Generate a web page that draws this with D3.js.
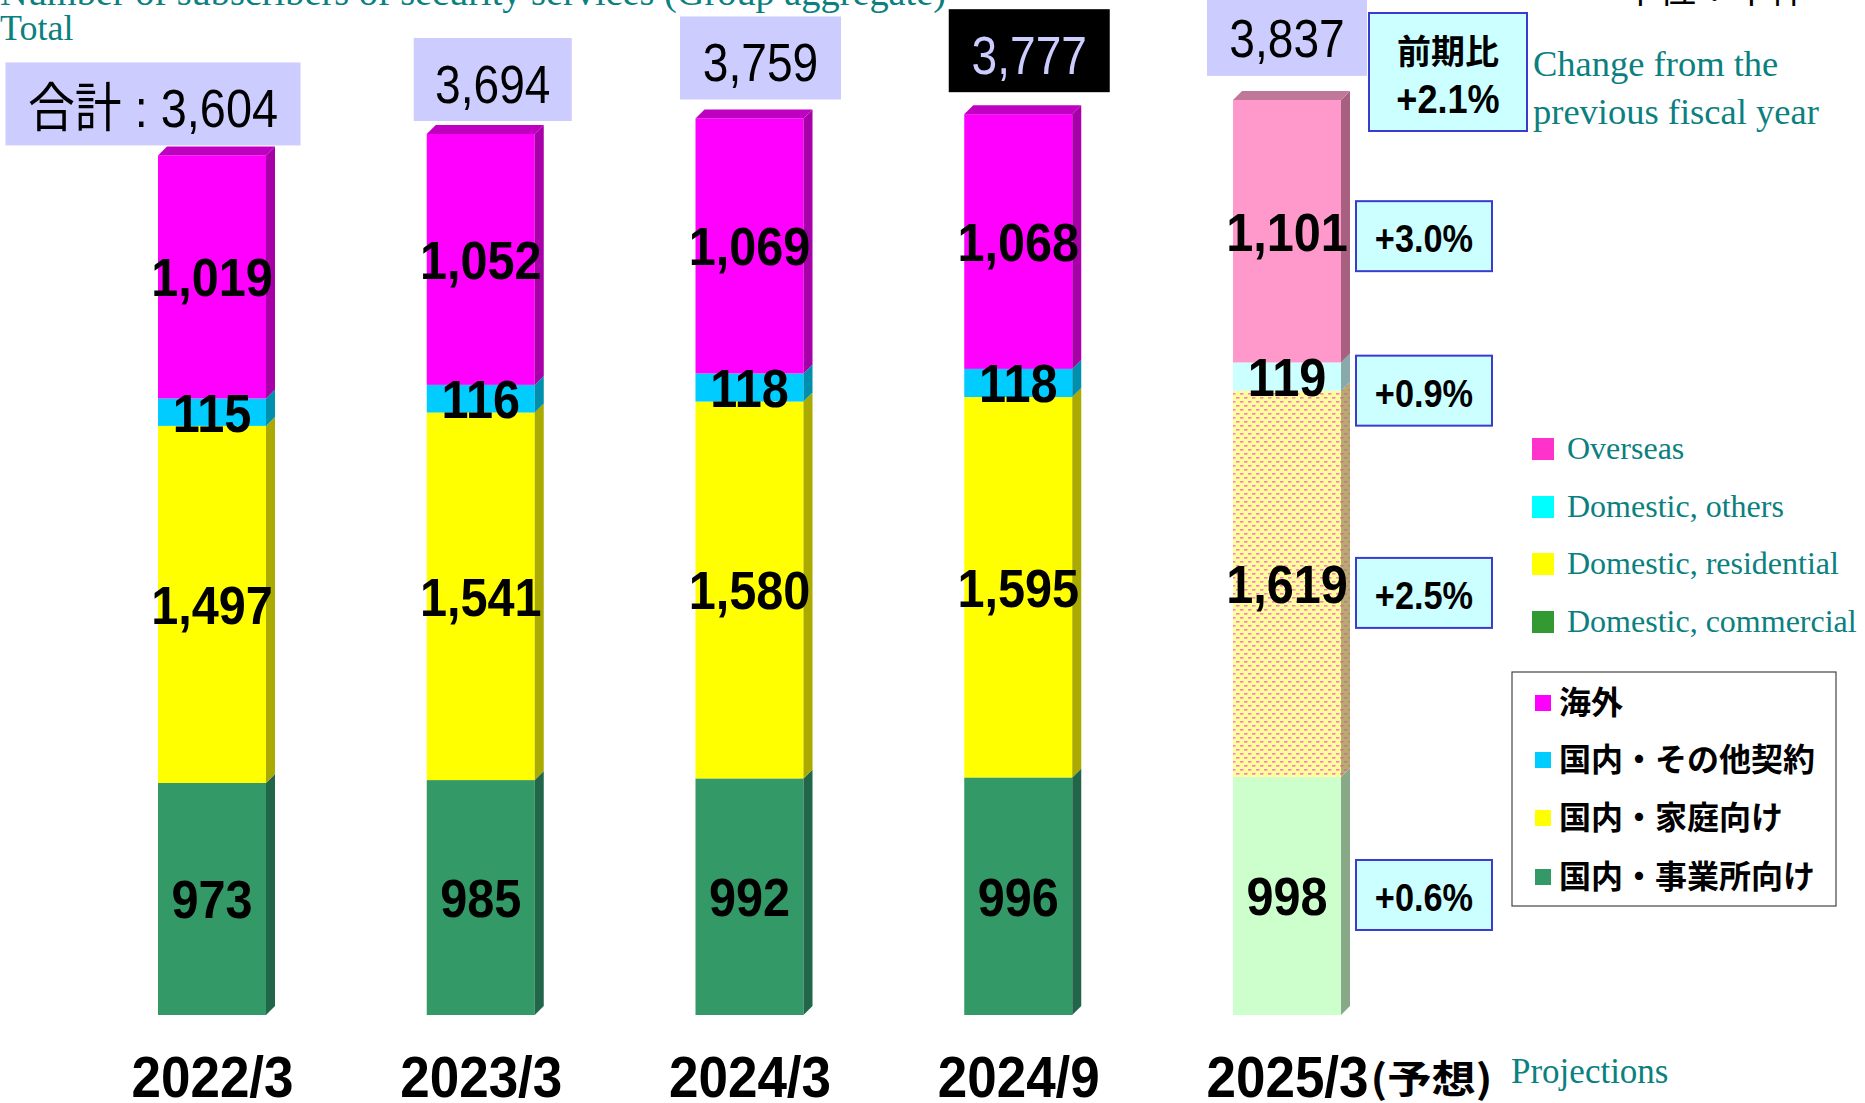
<!DOCTYPE html>
<html>
<head>
<meta charset="utf-8">
<script src="https://cdn.jsdelivr.net/npm/d3@7"></script>
<style>
  body { margin: 0; background: #fff; }
  svg { display: block; }
</style>
</head>
<body>
<script>
// data (thousand contracts)
const categories = ["2022/3", "2023/3", "2024/3", "2024/9", "2025/3"];
const commercial = [973, 985, 992, 996, 998];
const residential = [1497, 1541, 1580, 1595, 1619];
const others = [115, 116, 118, 118, 119];
const overseas = [1019, 1052, 1069, 1068, 1101];
const totals = [3604, 3694, 3759, 3777, 3837];
const changes = ["+0.6%", "+2.5%", "+0.9%", "+3.0%"]; // bottom up, for the projection
const totalChange = "+2.1%";
const keys = ["commercial", "residential", "others", "overseas"];
const legendEn = ["Overseas", "Domestic, others", "Domestic, residential", "Domestic, commercial"];
const legendJp = ["海外", "国内・その他契約", "国内・家庭向け", "国内・事業所向け"];

const W = 1865, H = 1103;
const teal = "#0B8080";
const numFont = "'Liberation Sans', Arial, 'Noto Sans CJK JP', sans-serif";
const cjkFont = "'Noto Sans CJK JP', sans-serif";
const serif = "'Liberation Serif', 'Times New Roman', serif";

const rows = categories.map((c, i) => ({
    cat: c, commercial: commercial[i], residential: residential[i],
    others: others[i], overseas: overseas[i], total: totals[i]
}));
const series = d3.stack().keys(keys)(rows);

const svg = d3.select("body").append("svg")
    .attr("width", W).attr("height", H);

// patterns for the projected residential part
const defs = svg.append("defs");
const pat = (id, bg, fg) => {
    const p = defs.append("pattern").attr("id", id)
        .attr("patternUnits", "userSpaceOnUse").attr("width", 8).attr("height", 8);
    p.append("rect").attr("width", 8).attr("height", 8).attr("fill", bg);
    p.append("rect").attr("x", 0).attr("y", 1).attr("width", 3.5).attr("height", 1.6).attr("fill", fg);
    p.append("rect").attr("x", 4).attr("y", 5).attr("width", 3.5).attr("height", 1.6).attr("fill", fg);
};
pat("dotFront", "#FFFF99", "#FF77CC");
pat("dotSide", "#B4AE6A", "#D46AA8");

const front = { commercial: "#339966", residential: "#FFFF00", others: "#00CCFF", overseas: "#FF00FF" };
const side = { commercial: "#22664A", residential: "#AAAA00", others: "#0090AE", overseas: "#A800A8" };
const frontP = { commercial: "#CCFFCC", residential: "url(#dotFront)", others: "#CCFFFF", overseas: "#FF99CC" };
const sideP = { commercial: "#88A888", residential: "url(#dotSide)", others: "#88AAAA", overseas: "#A86080" };
const topCol = ["#C000C0", "#C07898"];

const x = d3.scalePoint().domain(categories).range([212, 1287]);
const y = d3.scaleLinear().domain([0, 4000]).range([1015, 61]);
const bw = 108, depth = 9;
const isProj = c => c === "2025/3";

// squeeze text horizontally (the original uses a narrow face)
function squeeze(sel, k) {
    sel.each(function () {
        const w = this.getComputedTextLength();
        d3.select(this).attr("textLength", w * k).attr("lengthAdjust", "spacingAndGlyphs");
    });
}

// bars
const gBars = svg.append("g");
series.forEach(s => {
    const key = s.key;
    s.forEach(d => {
        const c = d.data.cat;
        const x0 = x(c) - bw / 2, x1 = x(c) + bw / 2;
        const yb = y(d[0]), yt = y(d[1]);
        gBars.append("rect")
            .attr("x", x0).attr("y", yt).attr("width", bw).attr("height", yb - yt)
            .attr("fill", isProj(c) ? frontP[key] : front[key]);
        gBars.append("path")
            .attr("d", `M${x1},${yb}L${x1 + depth},${yb - depth}L${x1 + depth},${yt - depth}L${x1},${yt}Z`)
            .attr("fill", isProj(c) ? sideP[key] : side[key]);
        if (key === "overseas") {
            gBars.append("path")
                .attr("d", `M${x0},${yt}L${x0 + depth},${yt - depth}L${x1 + depth},${yt - depth}L${x1},${yt}Z`)
                .attr("fill", isProj(c) ? topCol[1] : topCol[0]);
        }
    });
});

// segment values
series.forEach(s => {
    svg.append("g").selectAll("text").data(s).join("text")
        .attr("x", d => x(d.data.cat))
        .attr("y", d => (y(d[0]) + y(d[1])) / 2 + 0.36 * 54)
        .attr("text-anchor", "middle")
        .attr("font-family", numFont).attr("font-weight", "bold").attr("font-size", 54)
        .attr("fill", "#000")
        .text(d => d3.format(",")(d.data[s.key]))
        .call(squeeze, 0.9);
});

// total boxes
const totalBoxW = [295, 158, 161, 161, 160];
const totalBoxDx = [-59, 12, 11, 11, 0];
const totalBoxGap = [1, 4, 10, 13, 15];
const boxH = 83;
rows.forEach((r, i) => {
    const cx = x(r.cat) + totalBoxDx[i];
    const bottom = y(r.total) - depth - totalBoxGap[i];
    const dark = r.cat === "2024/9";
    svg.append("rect")
        .attr("x", cx - totalBoxW[i] / 2).attr("y", bottom - boxH)
        .attr("width", totalBoxW[i]).attr("height", boxH)
        .attr("fill", dark ? "#000" : "#CCCCFF");
    const t = svg.append("text")
        .attr("x", cx).attr("y", bottom - boxH / 2 + 0.36 * 53 + 4)
        .attr("text-anchor", "middle")
        .attr("font-family", numFont).attr("font-size", 53)
        .attr("fill", dark ? "#CCCCFF" : "#000")
        .text((i === 0 ? "合計 : " : "") + d3.format(",")(r.total));
    if (i === 0) t.attr("textLength", 250).attr("lengthAdjust", "spacingAndGlyphs");
    else t.call(squeeze, 0.87);
});

// change boxes for the projection
const proj = categories.length - 1;
const nudge = [-1, 9, 14, 5];
const chW = 136, chH = 70;
series.forEach((s, k) => {
    const d = s[proj];
    const cy = (y(d[0]) + y(d[1])) / 2 + nudge[k];
    const bx = x(categories[proj]) + 69;
    svg.append("rect")
        .attr("x", bx).attr("y", cy - chH / 2).attr("width", chW).attr("height", chH)
        .attr("fill", "#CCFFFF").attr("stroke", "#3B3BD0").attr("stroke-width", 2);
    svg.append("text")
        .attr("x", bx + chW / 2).attr("y", cy + 0.36 * 39 + 2)
        .attr("text-anchor", "middle")
        .attr("font-family", numFont).attr("font-weight", "bold").attr("font-size", 39)
        .text(changes[k])
        .call(squeeze, 0.88);
});

// overall change box
const ox = x(categories[proj]) + 82;
svg.append("rect")
    .attr("x", ox).attr("y", 13).attr("width", 158).attr("height", 118)
    .attr("fill", "#CCFFFF").attr("stroke", "#3B3BD0").attr("stroke-width", 2);
svg.append("text")
    .attr("x", ox + 79).attr("y", 64)
    .attr("text-anchor", "middle")
    .attr("font-family", cjkFont).attr("font-weight", "bold").attr("font-size", 34)
    .text("前期比");
svg.append("text")
    .attr("x", ox + 79).attr("y", 113)
    .attr("text-anchor", "middle")
    .attr("font-family", numFont).attr("font-weight", "bold").attr("font-size", 41)
    .text(totalChange)
    .call(squeeze, 0.88);

// english notes
const note = (tx, ty, t, size) => svg.append("text")
    .attr("x", tx).attr("y", ty)
    .attr("font-family", serif).attr("font-size", size || 34)
    .attr("fill", teal).text(t);
note(0, 5, "Number of subscribers of security services (Group aggregate)", 37)
    .attr("textLength", 946).attr("lengthAdjust", "spacingAndGlyphs");
note(0, 40, "Total", 36);
note(1533, 76, "Change from the", 36.5);
note(1533, 124, "previous fiscal year", 36.5);
note(1511, 1083, "Projections", 35);

svg.append("text")
    .attr("x", 1622).attr("y", 3)
    .attr("font-family", cjkFont).attr("font-size", 37)
    .text("単位：千件");

// x axis labels
const xAxis = d3.axisBottom(x).tickSize(0).tickPadding(0);
const gx = svg.append("g").attr("transform", "translate(0,1097)").call(xAxis);
gx.select(".domain").remove();
gx.selectAll("text")
    .attr("y", 0).attr("dy", 0)
    .attr("font-family", numFont).attr("font-weight", "bold").attr("font-size", 57)
    .attr("fill", "#000")
    .call(squeeze, 0.93);
gx.selectAll(".tick").filter(d => isProj(d)).each(function () {
    const t = d3.select(this).select("text");
    const w = +t.attr("textLength");
    d3.select(this).append("text")
        .attr("x", w / 2 + 2).attr("y", -4)
        .attr("text-anchor", "start")
        .attr("font-family", cjkFont).attr("font-weight", "bold").attr("font-size", 39)
        .attr("fill", "#000")
        .text("(予想)")
        .attr("textLength", 122).attr("lengthAdjust", "spacingAndGlyphs");
});

// english legend
const enColors = ["#FF33CC", "#00FFFF", "#FFFF00", "#339933"];
const enY = [449, 507, 564, 622];
legendEn.forEach((t, i) => {
    svg.append("rect").attr("x", 1532).attr("y", enY[i] - 11).attr("width", 22).attr("height", 22)
        .attr("fill", enColors[i]);
    svg.append("text").attr("x", 1567).attr("y", enY[i] + 10)
        .attr("font-family", serif).attr("font-size", 32).attr("fill", teal).text(t);
});

// japanese legend
const jpColors = ["#FF00FF", "#00CCFF", "#FFFF00", "#339966"];
const jpY = [703, 760, 818, 877];
svg.append("rect").attr("x", 1512).attr("y", 672).attr("width", 324).attr("height", 234)
    .attr("fill", "#fff").attr("stroke", "#444").attr("stroke-width", 1.2);
legendJp.forEach((t, i) => {
    svg.append("rect").attr("x", 1535).attr("y", jpY[i] - 8).attr("width", 16).attr("height", 16)
        .attr("fill", jpColors[i]);
    svg.append("text").attr("x", 1559).attr("y", jpY[i] + 11)
        .attr("font-family", cjkFont).attr("font-weight", "bold").attr("font-size", 32)
        .text(t);
});
</script>
</body>
</html>
